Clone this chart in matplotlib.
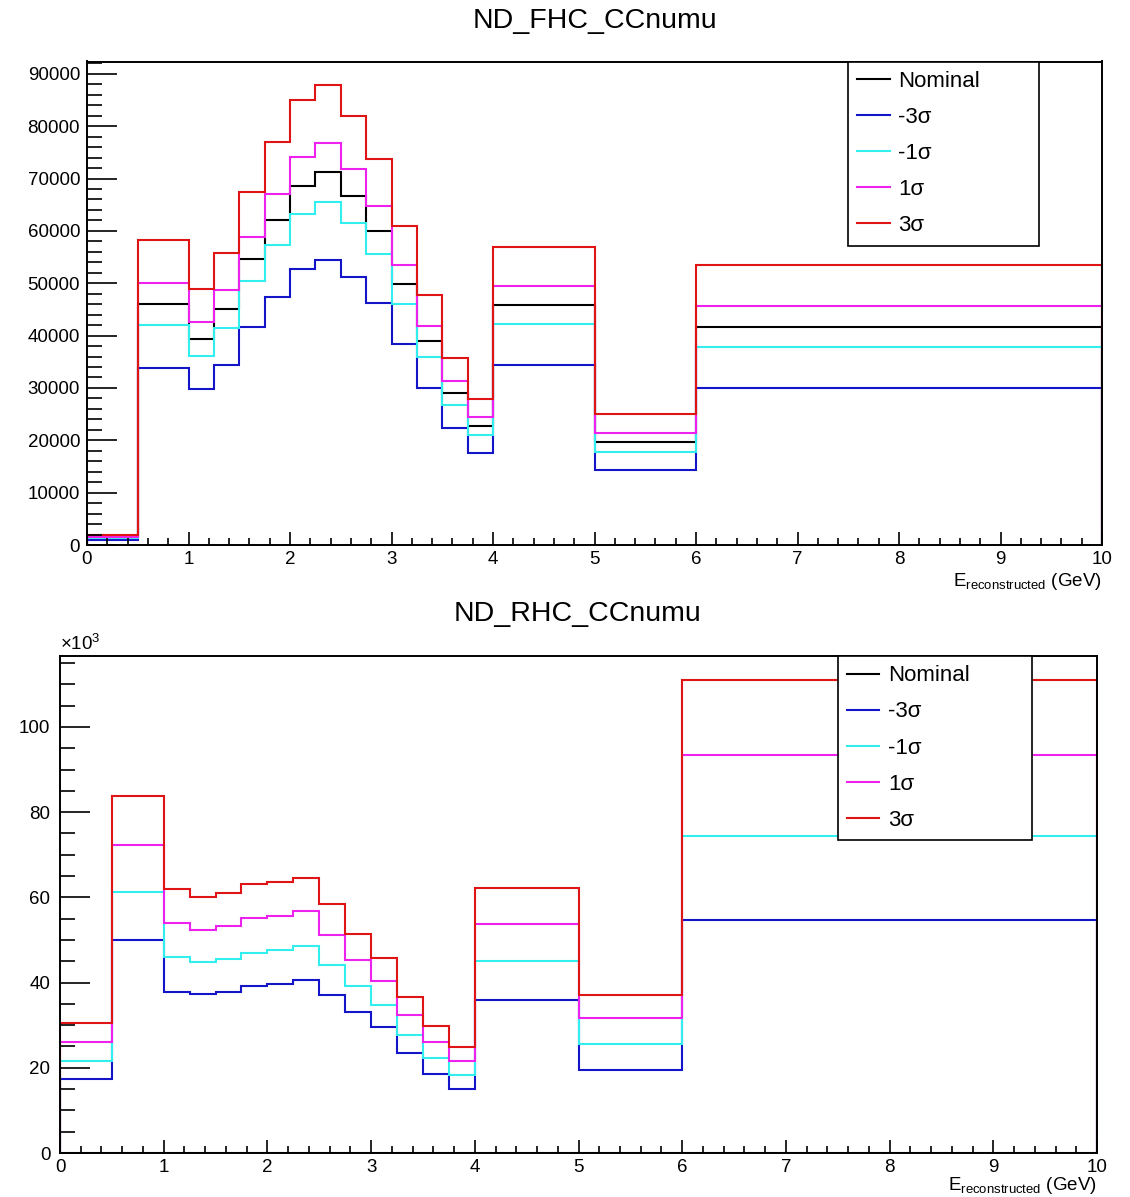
import numpy as np
import matplotlib
matplotlib.use("Agg")
from matplotlib import pyplot as plt
from matplotlib.ticker import MultipleLocator, FuncFormatter

plt.rcParams['font.family'] = ['Liberation Sans', 'DejaVu Sans']
plt.rcParams['mathtext.fontset'] = 'custom'
plt.rcParams['mathtext.rm'] = 'Liberation Sans'
plt.rcParams['mathtext.it'] = 'Liberation Sans:italic'

# bin edges (GeV)
edges = [0, 0.5, 1, 1.25, 1.5, 1.75, 2, 2.25, 2.5, 2.75, 3, 3.25, 3.5, 3.75, 4, 5, 6, 10]

labels = ['Nominal', '-3σ', '-1σ', '1σ', '3σ']
colors = ['black', '#1414c8', '#33eeee', '#ee22ee', '#e01414']

################
# ND FHC CCnumu
################
fhc_nom = [1450, 46000, 39350, 45060, 54560, 62040, 68630, 71160, 66600, 60020,
           49810, 38970, 29030, 22750, 45820, 19580, 41700]
fhc_m3 = [1000, 33900, 29850, 34410, 41700, 47280, 52660, 54370, 51140, 46320,
          38400, 29980, 22310, 17490, 34470, 14320, 29980]
fhc_m1 = [1300, 42000, 36060, 41500, 50440, 57220, 63250, 65530, 61470, 55510,
          46010, 35990, 26810, 20970, 42150, 17810, 37890]
fhc_p1 = [1600, 50100, 42530, 48730, 58880, 66980, 74090, 76750, 71800, 64700,
          53550, 41830, 31240, 24520, 49560, 21350, 45690]
fhc_p3 = [1900, 58230, 48860, 55830, 67360, 77060, 84980, 87960, 81940, 73640,
          61030, 47720, 35740, 27880, 56900, 25040, 53420]

################
# ND RHC CCnumu  (nominal is empty)
################
rhc_nom = [0] * 17
rhc_m3 = [17400, 50000, 37900, 37400, 37900, 39300, 39700, 40700, 37100, 33100,
          29500, 23400, 18600, 15100, 35900, 19500, 54700]
rhc_m1 = [21600, 61300, 45900, 44900, 45600, 46900, 47600, 48500, 44100, 39100,
          34800, 27800, 22300, 18200, 45000, 25600, 74500]
rhc_p1 = [26100, 72400, 53900, 52400, 53200, 55100, 55600, 56700, 51200, 45400,
          40300, 32300, 26000, 21500, 53800, 31600, 93500]
rhc_p3 = [30400, 83800, 62000, 60000, 61000, 63100, 63700, 64600, 58500, 51500,
          45700, 36700, 29800, 24800, 62100, 37000, 111100]

fig = plt.figure(figsize=(11.30, 11.97), dpi=100)
W, H = 1130, 1197

ax1 = fig.add_axes([87 / W, 1 - 545 / H, (1102 - 87) / W, (545 - 61.5) / H])
ax2 = fig.add_axes([60 / W, 1 - 1153 / H, (1097 - 60) / W, (1153 - 656) / H])


def draw(ax, series, ymax, title, tx, ty, major_y, minor_y, ylab_pad):
    for vals, lab, col in zip(series, labels, colors):
        ax.stairs(vals, edges, color=col, lw=1.5, label=lab, baseline=0)
    ax.set_xlim(0, 10)
    ax.set_ylim(0, ymax)
    ax.xaxis.set_major_locator(MultipleLocator(1))
    ax.xaxis.set_minor_locator(MultipleLocator(0.2))
    ax.yaxis.set_major_locator(MultipleLocator(major_y))
    ax.yaxis.set_minor_locator(MultipleLocator(minor_y))
    ax.tick_params(axis='x', which='major', direction='in', length=9.4, width=1.2,
                   labelsize=13.5, pad=4)
    ax.tick_params(axis='x', which='minor', direction='in', length=4.7, width=1.2)
    ax.tick_params(axis='y', which='major', direction='in', length=21.6, width=1.2,
                   labelsize=13.5, pad=ylab_pad)
    ax.tick_params(axis='y', which='minor', direction='in', length=10.8, width=1.2)
    for s in ax.spines.values():
        s.set_linewidth(1.4)
    leg = ax.legend(loc='upper left', bbox_to_anchor=(0.7498, 0.0, 0.188, 1.0),
                    mode='expand', fontsize=16, frameon=True, fancybox=False,
                    framealpha=1, edgecolor='black', borderaxespad=0,
                    borderpad=0.42, labelspacing=0.68, handlelength=1.45,
                    handletextpad=0.4)
    leg.get_frame().set_linewidth(1.2)
    fig.text(tx / W, 1 - ty / H, title, ha='center', va='center', fontsize=20.5)


draw(ax1, [fhc_nom, fhc_m3, fhc_m1, fhc_p1, fhc_p3], max(fhc_p3) * 1.05,
     'ND_FHC_CCnumu', 595, 21, 10000, 2000, 5)
draw(ax2, [rhc_nom, rhc_m3, rhc_m1, rhc_p1, rhc_p3], max(rhc_p3) * 1.05,
     'ND_RHC_CCnumu', 578, 614, 20000, 5000, 7)

ax2.yaxis.set_major_formatter(FuncFormatter(lambda v, p: '%d' % round(v / 1000)))
ax2.text(0.0, 1.004, '×10$^{3}$', transform=ax2.transAxes, ha='left', va='bottom',
         fontsize=13.5)

xlab = 'E$_{\\mathrm{reconstructed}}$ (GeV)'
ax1.text(1.0, -0.0848, xlab, transform=ax1.transAxes, ha='right', va='baseline',
         fontsize=13.5)
ax2.text(1.0, -0.0744, xlab, transform=ax2.transAxes, ha='right', va='baseline',
         fontsize=13.5)

fig.savefig('out.png', dpi=100)
